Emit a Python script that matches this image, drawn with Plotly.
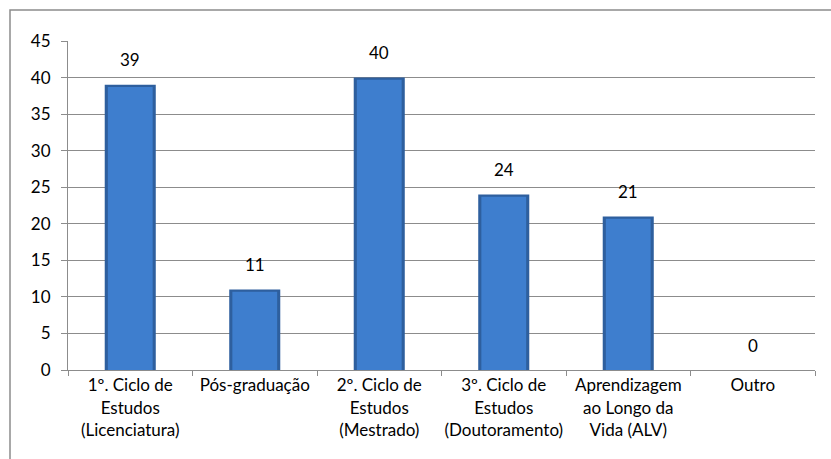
import plotly.graph_objects as go

# categorias e valores
categorias = [
    "1º. Ciclo de<br>Estudos<br>(Licenciatura)",
    "Pós-graduação",
    "2º. Ciclo de<br>Estudos<br>(Mestrado)",
    "3º. Ciclo de<br>Estudos<br>(Doutoramento)",
    "Aprendizagem<br>ao Longo da<br>Vida (ALV)",
    "Outro",
]
valores = [39, 11, 40, 24, 21, 0]
y_ticks = [0, 5, 10, 15, 20, 25, 30, 35, 40, 45]

W, H = 831, 459
L, R, T, B = 68, 16, 41, 89
pw, ph = W - L - R, H - T - B
FONT = "Lato, Carlito, sans-serif"

fig = go.Figure()

# barra base escura + barra interior mais clara (efeito de relevo)
fig.add_trace(go.Bar(
    x=categorias, y=valores, width=0.41,
    marker=dict(color="#2E5F9E", line=dict(width=0)),
    hoverinfo="skip",
))
fig.add_trace(go.Bar(
    x=categorias, y=[max(v - 0.3, 0) for v in valores], width=0.36,
    marker=dict(color="#3E7ECE", line=dict(width=0)),
    hoverinfo="skip",
))

# rótulos de valor acima das barras
anotacoes = [
    dict(x=c, y=v, text=str(v), showarrow=False, yshift=25, yanchor="middle",
         font=dict(family=FONT, size=17, color="black"))
    for c, v in zip(categorias, valores)
]

fig.update_layout(
    width=W, height=H,
    margin=dict(l=L, r=R, t=T, b=B, autoexpand=False),
    barmode="overlay",
    showlegend=False,
    plot_bgcolor="white", paper_bgcolor="white",
    font=dict(family=FONT, size=17, color="black"),
    annotations=anotacoes,
    shapes=[dict(
        type="rect", xref="paper", yref="paper",
        x0=(10 - L) / pw, x1=(840 - L) / pw,
        y0=(T + ph - 470) / ph, y1=(T + ph - 10) / ph,
        line=dict(color="#8C8C8C", width=1.5), fillcolor="rgba(0,0,0,0)", layer="below",
    )],
)

fig.update_yaxes(
    range=[0, 45], tickvals=y_ticks,
    showgrid=True, gridcolor="#8C8C8C", gridwidth=1,
    showline=True, linecolor="#8C8C8C", linewidth=1,
    ticks="outside", ticklen=6, tickcolor="#8C8C8C",
    zeroline=False, tickfont=dict(size=17), ticklabelstandoff=7,
    automargin=False,
)
fig.update_xaxes(
    showline=True, linecolor="#8C8C8C", linewidth=1,
    ticks="outside", tickson="boundaries", ticklen=5, tickcolor="#8C8C8C",
    showgrid=False, tickfont=dict(size=17), tickangle=0, automargin=False,
)

fig.write_html("out.html", config={"displayModeBar": False},
               post_script="document.body.style.margin='0';")
